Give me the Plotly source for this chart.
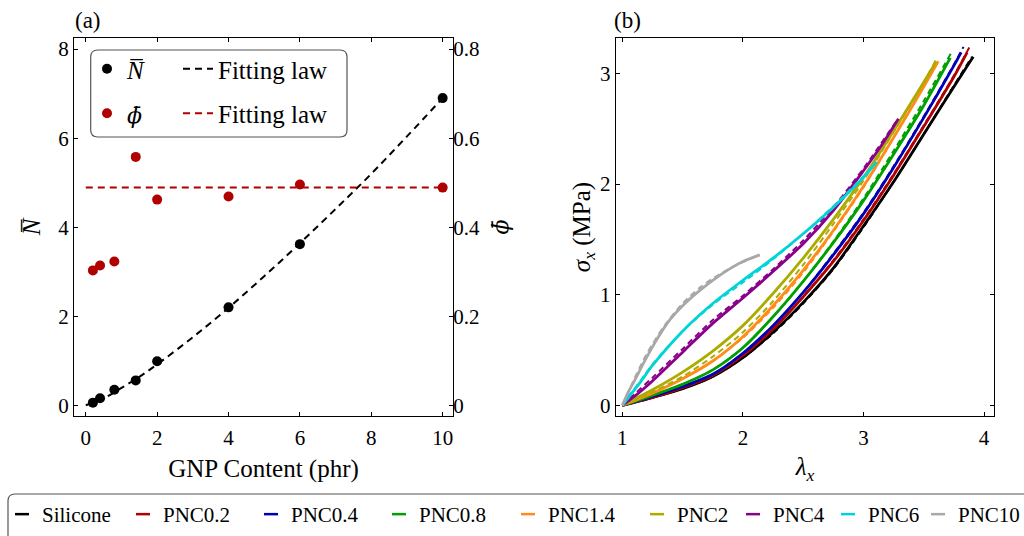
import plotly.graph_objects as go

# ---------------- Panel (a) data ----------------
gnp = [0.2, 0.4, 0.8, 1.4, 2, 4, 6, 10]
n_bar = [0.06, 0.16, 0.35, 0.56, 0.99, 2.2, 3.62, 6.9]
phi_bar = [0.303, 0.314, 0.323, 0.558, 0.462, 0.469, 0.496, 0.489]
n_fit_x = [0, 0.5, 1, 1.5, 2, 3, 4, 5, 6, 7, 8, 9, 10]
n_fit = [0, 0.16, 0.39, 0.64, 0.92, 1.53, 2.19, 2.90, 3.64, 4.41, 5.20, 6.04, 6.90]
phi_fit_x = [0, 10]
phi_fit = [0.489, 0.489]

# ---------------- Panel (b) data ----------------
names = ["Silicone", "PNC0.2", "PNC0.4", "PNC0.8", "PNC1.4", "PNC2", "PNC4", "PNC6", "PNC10"]
colors = ["#000000", "#b00000", "#0000b4", "#00a000", "#ff8c1a", "#acac00", "#8b008b", "#00d4d8", "#a8a8a8"]

lam_silicone = [1, 1.25, 1.5, 1.75, 2.0, 2.25, 2.5, 2.75, 3.0, 3.25, 3.5, 3.75, 3.91]
sig_silicone = [0, 0.07, 0.15, 0.26, 0.43, 0.66, 0.93, 1.24, 1.62, 2.02, 2.45, 2.88, 3.15]
lam_pnc02 = [1, 1.25, 1.5, 1.75, 2.0, 2.25, 2.5, 2.75, 3.0, 3.25, 3.5, 3.75, 3.86]
sig_pnc02 = [0, 0.07, 0.16, 0.27, 0.45, 0.69, 0.98, 1.30, 1.67, 2.08, 2.52, 2.97, 3.19]
lam_pnc04 = [1, 1.25, 1.5, 1.75, 2.0, 2.25, 2.5, 2.75, 3.0, 3.25, 3.5, 3.75, 3.81]
sig_pnc04 = [0, 0.08, 0.17, 0.28, 0.47, 0.72, 1.02, 1.36, 1.73, 2.15, 2.60, 3.07, 3.19]
lam_pnc08 = [1, 1.25, 1.5, 1.75, 2.0, 2.25, 2.5, 2.75, 3.0, 3.25, 3.5, 3.72]
sig_pnc08 = [0, 0.09, 0.19, 0.32, 0.52, 0.80, 1.12, 1.47, 1.85, 2.27, 2.71, 3.14]
lam_pnc14 = [1, 1.25, 1.5, 1.75, 2.0, 2.25, 2.5, 2.75, 3.0, 3.25, 3.5, 3.62]
sig_pnc14 = [0, 0.11, 0.24, 0.40, 0.62, 0.90, 1.22, 1.58, 1.98, 2.42, 2.88, 3.11]
lam_pnc2 = [1, 1.25, 1.5, 1.75, 2.0, 2.25, 2.5, 2.75, 3.0, 3.25, 3.5, 3.6]
sig_pnc2 = [0, 0.14, 0.30, 0.49, 0.72, 1.01, 1.33, 1.68, 2.06, 2.48, 2.92, 3.1]
lam_pnc4 = [1, 1.1, 1.25, 1.5, 1.75, 2.0, 2.25, 2.5, 2.75, 3.0, 3.15, 3.29]
sig_pnc4 = [0, 0.08, 0.22, 0.48, 0.74, 0.97, 1.21, 1.46, 1.76, 2.12, 2.35, 2.59]
lam_pnc6 = [1, 1.05, 1.15, 1.25, 1.5, 1.75, 2.0, 2.25, 2.5, 2.75, 3.0, 3.11]
sig_pnc6 = [0, 0.07, 0.21, 0.36, 0.67, 0.92, 1.13, 1.33, 1.55, 1.79, 2.06, 2.2]
lam_pnc10 = [1, 1.05, 1.1, 1.2, 1.3, 1.4, 1.5, 1.6, 1.75, 1.9, 2.0, 2.14]
sig_pnc10 = [0, 0.12, 0.22, 0.43, 0.62, 0.78, 0.90, 1.00, 1.13, 1.24, 1.30, 1.36]

fit_lam_silicone = [1, 1.25, 1.5, 1.75, 2.0, 2.25, 2.5, 2.75, 3.0, 3.25, 3.5, 3.75, 3.9]
fit_sig_silicone = [0, 0.07, 0.15, 0.26, 0.43, 0.65, 0.92, 1.23, 1.61, 2.02, 2.45, 2.89, 3.15]
fit_lam_pnc02 = [1, 1.25, 1.5, 1.75, 2.0, 2.25, 2.5, 2.75, 3.0, 3.25, 3.5, 3.75, 3.88]
fit_sig_pnc02 = [0, 0.07, 0.16, 0.27, 0.45, 0.69, 0.98, 1.31, 1.68, 2.09, 2.53, 2.98, 3.24]
fit_lam_pnc04 = [1, 1.25, 1.5, 1.75, 2.0, 2.25, 2.5, 2.75, 3.0, 3.25, 3.5, 3.75, 3.83]
fit_sig_pnc04 = [0, 0.08, 0.17, 0.28, 0.47, 0.72, 1.02, 1.37, 1.74, 2.16, 2.61, 3.08, 3.24]
fit_lam_pnc08 = [1, 1.25, 1.5, 1.75, 2.0, 2.25, 2.5, 2.75, 3.0, 3.25, 3.5, 3.73]
fit_sig_pnc08 = [0, 0.09, 0.19, 0.32, 0.52, 0.80, 1.12, 1.48, 1.87, 2.30, 2.75, 3.19]
fit_lam_pnc14 = [1, 1.25, 1.5, 1.75, 2.0, 2.25, 2.5, 2.75, 3.0, 3.25, 3.5, 3.61]
fit_sig_pnc14 = [0, 0.11, 0.24, 0.40, 0.61, 0.88, 1.20, 1.57, 1.97, 2.42, 2.89, 3.11]
fit_lam_pnc2 = [1, 1.25, 1.5, 1.75, 2.0, 2.25, 2.5, 2.75, 3.0, 3.25, 3.5, 3.6]
fit_sig_pnc2 = [0, 0.12, 0.26, 0.44, 0.66, 0.94, 1.27, 1.64, 2.03, 2.47, 2.92, 3.12]
fit_lam_pnc4 = [1, 1.1, 1.25, 1.5, 1.75, 2.0, 2.25, 2.5, 2.75, 3.0, 3.28]
fit_sig_pnc4 = [0, 0.10, 0.25, 0.51, 0.77, 0.99, 1.23, 1.49, 1.79, 2.14, 2.58]
fit_lam_pnc6 = [1, 1.05, 1.15, 1.25, 1.5, 1.75, 2.0, 2.25, 2.5, 2.75, 3.0, 3.1]
fit_sig_pnc6 = [0, 0.08, 0.22, 0.37, 0.67, 0.91, 1.11, 1.32, 1.55, 1.80, 2.07, 2.19]
fit_lam_pnc10 = [1, 1.1, 1.2, 1.35, 1.5, 1.65, 1.8, 1.95, 2.12]
fit_sig_pnc10 = [0, 0.24, 0.46, 0.72, 0.92, 1.07, 1.18, 1.27, 1.35]

exp_lam = [lam_silicone, lam_pnc02, lam_pnc04, lam_pnc08, lam_pnc14, lam_pnc2, lam_pnc4, lam_pnc6, lam_pnc10]
exp_sig = [sig_silicone, sig_pnc02, sig_pnc04, sig_pnc08, sig_pnc14, sig_pnc2, sig_pnc4, sig_pnc6, sig_pnc10]
fit_lam = [fit_lam_silicone, fit_lam_pnc02, fit_lam_pnc04, fit_lam_pnc08, fit_lam_pnc14, fit_lam_pnc2, fit_lam_pnc4, fit_lam_pnc6, fit_lam_pnc10]
fit_sig = [fit_sig_silicone, fit_sig_pnc02, fit_sig_pnc04, fit_sig_pnc08, fit_sig_pnc14, fit_sig_pnc2, fit_sig_pnc4, fit_sig_pnc6, fit_sig_pnc10]

# left edge (px) of each bottom-legend entry's text
legend_text_px = [44, 165, 293, 421, 550, 679, 775, 870, 960]

FONT = "Liberation Serif, Times New Roman, serif"
RED = "#b00000"
N_BAR = "<i>N\u0305</i>"
PHI_BAR = "<span style=\"font-family:DejaVu Serif;font-size:22px\"><i>\u03d5\u0304</i></span>"

PLOT_W = 950.0


def lx(px):
    return (px - 74) / PLOT_W


def ly(py):
    return (416 - py) / 378.0


fig = go.Figure()

# ---- Panel (a) traces ----
fig.add_trace(go.Scatter(x=gnp, y=n_bar, mode="markers", name=N_BAR,
                         marker=dict(color="black", size=10), xaxis="x", yaxis="y",
                         legend="legend", legendgroup="a1"))
fig.add_trace(go.Scatter(x=gnp, y=phi_bar, mode="markers", name=PHI_BAR,
                         marker=dict(color=RED, size=10), xaxis="x", yaxis="y2",
                         legend="legend", legendgroup="a2"))
fig.add_trace(go.Scatter(x=n_fit_x, y=n_fit, mode="lines", name="Fitting law",
                         line=dict(color="black", width=2, dash="7px,5px", shape="spline"),
                         xaxis="x", yaxis="y", legend="legend2", legendgroup="b1"))
fig.add_trace(go.Scatter(x=phi_fit_x, y=phi_fit, mode="lines", name="Fitting law",
                         line=dict(color=RED, width=2, dash="7px,5px"),
                         xaxis="x", yaxis="y2", legend="legend2", legendgroup="b2"))

# ---- Panel (b) traces ----
bottom_legends = {}
for i, nm in enumerate(names):
    lg = "legend%d" % (i + 3)
    fig.add_trace(go.Scatter(x=exp_lam[i], y=exp_sig[i], mode="lines", name=nm,
                             line=dict(color=colors[i], width=2.8, shape="spline", smoothing=0.8),
                             xaxis="x2", yaxis="y3", legendgroup=nm, showlegend=False))
    fig.add_trace(go.Scatter(x=fit_lam[i], y=fit_sig[i], mode="lines", name=nm + " fit",
                             line=dict(color=colors[i], width=2, dash="6px,4px", shape="spline", smoothing=0.8),
                             xaxis="x2", yaxis="y3", legendgroup=nm, showlegend=False))
    # legend entry (short line glyph, as in the original legend)
    fig.add_trace(go.Scatter(x=[None], y=[None], mode="markers", name=nm,
                             marker=dict(symbol="line-ew", size=10, color=colors[i],
                                         line=dict(width=2.5, color=colors[i])),
                             xaxis="x2", yaxis="y3", legendgroup=nm, legend=lg, showlegend=True))
    bottom_legends[lg] = dict(x=lx(legend_text_px[i] - 42), y=ly(494), xanchor="left", yanchor="top",
                              orientation="h", bgcolor="rgba(0,0,0,0)", borderwidth=0,
                              font=dict(family=FONT, size=21, color="black"))

tick_font = dict(family=FONT, size=21, color="black")
title_font = dict(family=FONT, size=25, color="black")
common = dict(showline=True, linecolor="black", linewidth=1.2, ticks="inside", ticklen=4,
              tickcolor="black", showgrid=False, zeroline=False, tickfont=tick_font,
              automargin=False)

fig.update_layout(
    width=1024, height=536,
    margin=dict(l=74, r=0, t=38, b=120, autoexpand=False),
    paper_bgcolor="white", plot_bgcolor="white",
    font=dict(family=FONT, color="black"),
    xaxis=dict(domain=[0, lx(453)], range=[-0.33, 10.29], tickvals=[0, 2, 4, 6, 8, 10],
               mirror="ticks", anchor="y", ticklabelstandoff=3,
               title=dict(text="GNP Content (phr)", font=title_font, standoff=10), **common),
    yaxis=dict(domain=[0, 1], range=[-0.24, 8.25], tickvals=[0, 2, 4, 6, 8], anchor="x",
               title=dict(text=N_BAR, font=title_font, standoff=10), **common),
    yaxis2=dict(range=[-0.024, 0.825], tickvals=[0, 0.2, 0.4, 0.6, 0.8],
                ticktext=["0", "0.2", "0.4", "0.6", "0.8"], overlaying="y", side="right",
                anchor="x", ticklabelstandoff=-5,
                title=dict(text=PHI_BAR, font=title_font, standoff=11),
                **common),
    xaxis2=dict(domain=[lx(615.7), lx(994.3)], range=[0.945, 4.085], tickvals=[1, 2, 3, 4],
                mirror="ticks", anchor="y3", ticklabelstandoff=3,
                title=dict(text="<i>\u03bb<sub>x</sub></i>", font=title_font, standoff=8), **common),
    yaxis3=dict(domain=[0, 1], range=[-0.097, 3.32], tickvals=[0, 1, 2, 3], mirror="ticks",
                anchor="x2",
                title=dict(text="<i>\u03c3<sub>x</sub></i> (MPa)", font=title_font, standoff=2),
                **common),
    legend=dict(x=lx(87), y=ly(46), xanchor="left", yanchor="top", bgcolor="rgba(0,0,0,0)",
                font=dict(family=FONT, size=25), tracegroupgap=9, borderwidth=0),
    legend2=dict(x=lx(178), y=ly(46), xanchor="left", yanchor="top", bgcolor="rgba(0,0,0,0)",
                 font=dict(family=FONT, size=25), tracegroupgap=9, borderwidth=0),
    showlegend=True,
    **bottom_legends,
)


def rounded(x0, x1, y0, y1, rxp=7, ryp=7):
    rx, ry = rxp / PLOT_W, ryp / 378.0
    return (f"M {x0+rx},{y0} L {x1-rx},{y0} Q {x1},{y0} {x1},{y0+ry} L {x1},{y1-ry} "
            f"Q {x1},{y1} {x1-rx},{y1} L {x0+rx},{y1} Q {x0},{y1} {x0},{y1-ry} "
            f"L {x0},{y0+ry} Q {x0},{y0} {x0+rx},{y0} Z")


# Rounded frame around the panel (a) legend
fig.add_shape(type="path", path=rounded(lx(90.7), lx(347), ly(137), ly(50)),
              xref="paper", yref="paper", line=dict(color="#555555", width=1.2), layer="above")
# Frame of the bottom legend (runs past the page edge, as in the original)
fig.add_shape(type="path", path=rounded(lx(8), lx(1040), ly(550), ly(494)),
              xref="paper", yref="paper", line=dict(color="#555555", width=1.2), layer="above")

fig.add_annotation(text="(a)", x=lx(73), y=ly(6), xref="paper", yref="paper",
                   xanchor="left", yanchor="top", showarrow=False,
                   font=dict(family=FONT, size=23, color="black"))
fig.add_annotation(text="(b)", x=lx(612), y=ly(6), xref="paper", yref="paper",
                   xanchor="left", yanchor="top", showarrow=False,
                   font=dict(family=FONT, size=23, color="black"))

fig.write_html("out.html")
